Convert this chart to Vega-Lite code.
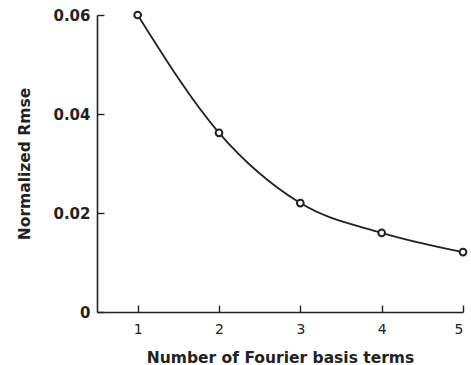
{
  "$schema": "https://vega.github.io/schema/vega-lite/v6.json",
  "width": 366,
  "height": 297,
  "autosize": {"type": "none"},
  "padding": {"left": 97, "top": 15, "right": 8, "bottom": 53},
  "background": "white",
  "config": {
    "view": {"stroke": null},
    "axis": {
      "grid": false,
      "domainColor": "#222",
      "domainWidth": 1.6,
      "tickColor": "#222",
      "tickWidth": 1.4,
      "labelColor": "#222",
      "titleColor": "#222",
      "labelFont": "DejaVu Sans",
      "titleFont": "DejaVu Sans",
      "titleFontWeight": "bold"
    }
  },
  "data": {
    "values": [
      {"terms": 1, "rmse": 0.060},
      {"terms": 2, "rmse": 0.0362},
      {"terms": 3, "rmse": 0.0220},
      {"terms": 4, "rmse": 0.0160},
      {"terms": 5, "rmse": 0.0121}
    ]
  },
  "encoding": {
    "x": {
      "field": "terms",
      "type": "quantitative",
      "scale": {"domain": [0.5, 5], "nice": false, "zero": false},
      "axis": {
        "values": [1, 2, 3, 4, 5],
        "format": "d",
        "title": "Number of Fourier basis terms",
        "tickSize": -7,
        "labelPadding": 17,
        "labelFontSize": 14,
        "titleFontSize": 15.5,
        "titlePadding": 14
      }
    },
    "y": {
      "field": "rmse",
      "type": "quantitative",
      "scale": {"domain": [0, 0.06], "nice": false},
      "axis": {
        "values": [0, 0.02, 0.04, 0.06],
        "labelExpr": "datum.value == 0 ? '0' : format(datum.value, '.2f')",
        "title": "Normalized Rmse",
        "tickSize": -7,
        "labelPadding": 14,
        "labelFontSize": 15,
        "labelFontWeight": "bold",
        "titleFontSize": 15.5,
        "titlePadding": 20
      }
    }
  },
  "layer": [
    {
      "mark": {"type": "line", "interpolate": "monotone", "color": "#222", "strokeWidth": 1.8}
    },
    {
      "mark": {"type": "point", "shape": "circle", "filled": true, "fill": "white", "stroke": "#222", "strokeWidth": 2, "size": 45, "opacity": 1}
    }
  ]
}
